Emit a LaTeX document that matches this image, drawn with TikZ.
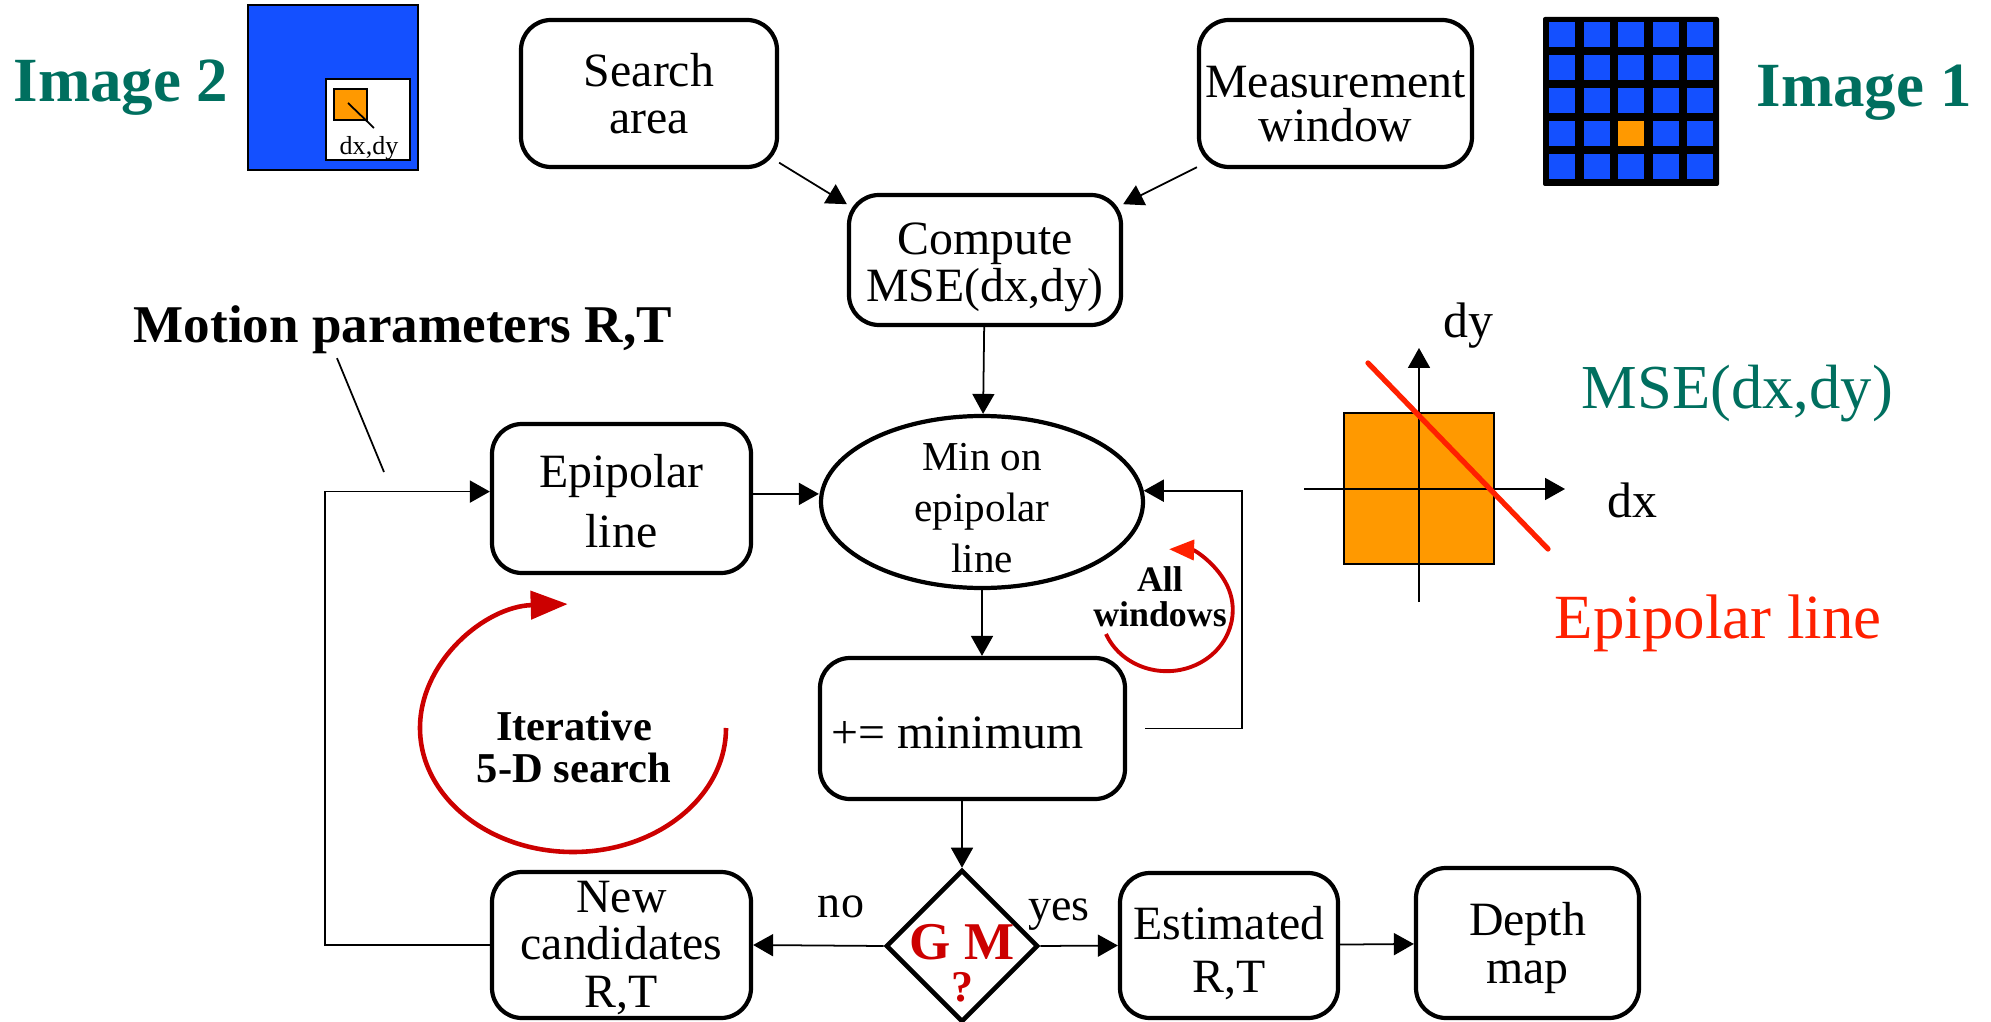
\documentclass[tikz,border=0pt]{standalone}
\usepackage{fontspec}
\setmainfont{Liberation Serif}
\usetikzlibrary{shapes.geometric,arrows.meta,calc}
\definecolor{imgteal}{HTML}{006F5F}
\definecolor{imgblue}{HTML}{1450FF}
\definecolor{imgorange}{HTML}{FF9900}
\definecolor{loopred}{HTML}{CC0000}
\definecolor{epired}{HTML}{FF2000}
\begin{document}
\begin{tikzpicture}[>={Triangle[length=0.2cm,width=0.22cm]}, line width=0.5pt,
  box/.style={draw, line width=1.2pt, rounded corners=0.3cm, align=center, inner sep=0pt, font=\fontsize{13.6}{13.4}\selectfont},
  textpos/.style={text height=#1, text depth=0pt},
  minbox/.style={draw, ellipse, line width=1.2pt, align=center, inner xsep=0pt, inner ysep=-0.1cm, minimum width=3.22cm, minimum height=1.72cm, font=\fontsize{11.7}{14.5}\selectfont},
  gmdiamond/.style={draw, diamond, line width=1.3pt, inner sep=0pt, minimum width=1.52cm, minimum height=1.52cm},
  gmtext/.style={align=center, inner sep=0pt, text=loopred, font=\bfseries\fontsize{15.1}{12}\selectfont},
  lbl/.style={inner sep=0pt, font=\fontsize{13.1}{14}\selectfont},
  imglabel/.style={inner sep=0pt, text=imgteal, font=\bfseries\fontsize{17.9}{20}\selectfont},
  bigloop/.style={draw=loopred, line width=1.3pt, -{Triangle[length=0.37cm,width=0.28cm]}},
  smallloop/.style={draw=loopred, line width=1.1pt, -{Triangle[length=0.25cm,width=0.2cm,color=epired]}}]
\useasboundingbox (0,0) rectangle (19.91,-10.22);

\node[imglabel, anchor=base] (img2) at (1.21,-1.02) {Image 2};
\filldraw[fill=imgblue, draw=black, line width=0.6pt] (2.48,-0.05) rectangle (4.18,-1.70);
\filldraw[fill=white, draw=black, line width=0.6pt] (3.26,-0.79) rectangle (4.10,-1.60);
\filldraw[fill=imgorange, draw=black, line width=0.6pt] (3.34,-0.89) rectangle (3.67,-1.20);
\draw (3.48,-1.03) -- (3.74,-1.28);
\node[inner sep=0pt, anchor=base, font=\fontsize{7.4}{8}\selectfont] (dxdy) at (3.69,-1.55) {dx,dy};

\node[imglabel, anchor=base] (img1) at (18.64,-1.07) {Image 1};
\fill[black, rounded corners=0.02cm] (15.43,-0.17) rectangle (17.19,-1.86);
\foreach \i in {0,...,4}
  \foreach \j in {0,...,4}
    \fill[imgblue] ({15.49+0.346*\i},{-0.22-0.33*\j}) rectangle ++(0.26,-0.25);
\fill[imgorange] ({15.49+0.346*2},{-0.22-0.33*3}) rectangle ++(0.26,-0.25);

\node[box, minimum width=2.56cm, minimum height=1.47cm] (search) at (6.49,-0.935) {Search\\area};
\node[box, textpos=0.97cm, minimum width=2.73cm, minimum height=1.47cm, font=\fontsize{13.6}{12.6}\selectfont] (measure) at (13.355,-0.935) {Measurement\\window};
\node[box, textpos=0.84cm, minimum width=2.72cm, minimum height=1.30cm] (compute) at (9.85,-2.60) {Compute\\MSE(dx,dy)};
\node[box, textpos=0.97cm, minimum width=2.59cm, minimum height=1.49cm, font=\fontsize{13.6}{16.8}\selectfont] (epi) at (6.215,-4.985) {Epipolar\\line};
\node[minbox, textpos=1.40cm] (minep) at (9.82,-5.02) {Min on\\epipolar\\line};
\node[box, textpos=0.39cm, minimum width=3.05cm, minimum height=1.41cm, execute at end node={\hspace*{0.3cm}}] (mini) at (9.725,-7.285) {+= minimum};
\node[gmdiamond] (gm) at (9.62,-9.46) {};
\node[gmtext] (gmq) at ([yshift=-0.175cm]gm.center) {G M\\{\fontsize{12.5}{12}\selectfont ?}};
\node[box, textpos=1.24cm, minimum width=2.59cm, minimum height=1.46cm] (newcand) at (6.215,-9.45) {New\\candidates\\R,T};
\node[box, textpos=0.93cm, minimum width=2.18cm, minimum height=1.45cm, font=\fontsize{13.6}{14.8}\selectfont] (estim) at (12.29,-9.455) {Estimated\\R,T};
\node[box, textpos=0.80cm, minimum width=2.23cm, minimum height=1.50cm] (depth) at (15.275,-9.43) {Depth\\map};

\draw[->] (search.-28) -- (compute.158);
\draw[->] (measure.-152) -- (compute.22);
\draw[->] (compute) -- (minep);
\draw[->] (epi.2) -- (epi.2 -| minep.west);
\draw[->] (minep.south) -- (minep.south |- mini.north);
\draw[->] (mini.south -| gm.north) -- (gm.north);
\draw[->] (gm.west) -- (newcand.east);
\draw[->] (gm.east) -- (estim.west);
\draw[->] (estim) -- (depth);
\draw[->] (newcand.west) -- ++(-1.65,0) |- (epi.177);
\draw[->] ([xshift=0.18cm]mini.east) -- ++(0.97,0) |- (minep.4);

\node[lbl, anchor=base] (no) at (8.41,-9.17) {no};
\node[lbl, anchor=base] (yes) at (10.59,-9.20) {yes};

\node[inner sep=0pt, anchor=base west, font=\bfseries\fontsize{15.1}{16}\selectfont] (motion) at (1.33,-3.43) {Motion parameters R,T};
\coordinate (motionend) at (3.84,-4.72);
\draw (motion.south west) ++(2.04,-0.03) -- (motionend);

\node[align=center, inner sep=0pt, font=\bfseries\fontsize{12.1}{11.7}\selectfont] (iter) at (5.74,-7.47) {Iterative\\5-D search};
\draw[bigloop] (7.26,-7.28) arc[start angle=0, end angle=-268, x radius=1.53cm, y radius=1.24cm];
\node[align=center, inner sep=0pt, font=\bfseries\fontsize{10.2}{10}\selectfont] (allwin) at (11.60,-5.97) {All\\windows};
\draw[smallloop] (11.06,-6.34) arc[start angle=203, end angle=448, x radius=0.66cm, y radius=0.61cm];

\filldraw[fill=imgorange, draw=black, line width=0.6pt] (13.44,-4.13) rectangle (14.94,-5.64);
\draw[->] (13.04,-4.89) -- (15.65,-4.89);
\draw[->] (14.19,-6.02) -- (14.19,-3.48);
\draw[epired, line width=1.5pt, line cap=round] (13.68,-3.63) -- (15.48,-5.49);
\node[inner sep=0pt, anchor=base west, font=\fontsize{14.2}{15}\selectfont] (dylbl) at (14.43,-3.37) {dy};
\node[inner sep=0pt, anchor=base west, font=\fontsize{14.2}{15}\selectfont] (dxlbl) at (16.07,-5.18) {dx};
\node[inner sep=0pt, anchor=base west, text=imgteal, font=\fontsize{17.8}{19}\selectfont] (mselbl) at (15.81,-4.08) {MSE(dx,dy)};
\node[inner sep=0pt, anchor=base west, text=epired, font=\fontsize{17.9}{19}\selectfont] (epilbl) at (15.54,-6.38) {Epipolar line};
\end{tikzpicture}
\end{document}
